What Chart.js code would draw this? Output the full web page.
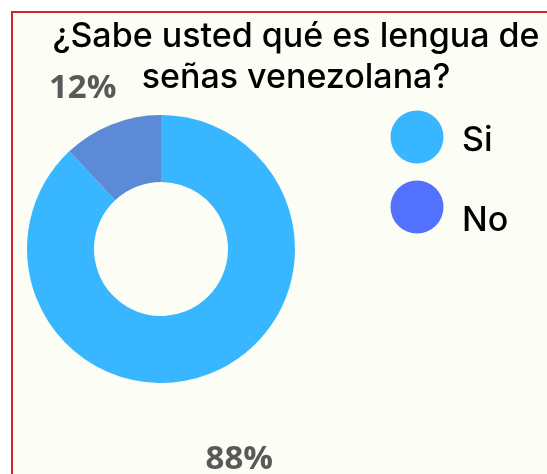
<!DOCTYPE html>
<html>
<head>
<meta charset="utf-8">
<script src="https://cdn.jsdelivr.net/npm/chart.js@4"></script>
<style>
  html, body { margin: 0; padding: 0; background: #ffffff; overflow: hidden; }
  #frame {
    position: absolute; left: 11px; top: 11px; width: 600px; height: 500px;
    border-left: 2px solid #d2232a; border-top: 2px solid #d2232a;
    background: #fcfdf4;
  }
  #wrap { position: absolute; left: 0; top: 0; width: 547px; height: 474px; }
</style>
</head>
<body>
<div id="frame"></div>
<div id="wrap"><canvas id="donutChart"></canvas></div>
<script>
const titleLines = ["¿Sabe usted qué es lengua de", "señas venezolana?"]
const categories = ["Si", "No"]
const percentages = [88, 12]
const sliceColors = ["#38b6ff", "#5c8ad6"]
const legendColors = ["#38b6ff", "#5271ff"]

// draws title, legend and the % labels on top of the doughnut
const decorPlugin = {
  id: "decor",
  afterDraw(chart, args, opts) {
    const ctx = chart.ctx
    ctx.save()

    ctx.fillStyle = "#000000"
    ctx.textAlign = "center"
    ctx.textBaseline = "alphabetic"
    ctx.font = "500 34px Inter, sans-serif"
    titleLines.forEach((line, i) => {
      ctx.fillText(line, opts.titleX, opts.titleY[i])
    })

    chart.data.labels.forEach((label, i) => {
      const cy = opts.legendY + i * opts.legendGap
      ctx.beginPath()
      ctx.arc(opts.legendX, cy, opts.legendR, 0, Math.PI * 2)
      ctx.fillStyle = legendColors[i]
      ctx.fill()
      ctx.fillStyle = "#000000"
      ctx.textAlign = "left"
      ctx.font = "500 34px Inter, sans-serif"
      ctx.fillText(label, opts.legendTextX, cy + opts.legendTextDy[i])
    })

    const meta = chart.getDatasetMeta(0)
    ctx.fillStyle = "#595959"
    ctx.textAlign = "center"
    ctx.textBaseline = "middle"
    ctx.font = "bold 33px 'Open Sans', sans-serif"
    meta.data.forEach((arc, i) => {
      const p = arc.getProps(["x", "y", "startAngle", "endAngle", "outerRadius"], true)
      const mid = (p.startAngle + p.endAngle) / 2
      const ax = p.x + Math.cos(mid) * p.outerRadius + opts.labelShift[i][0]
      const ay = p.y + Math.sin(mid) * p.outerRadius + opts.labelShift[i][1]
      ctx.fillText(percentages[i] + "%", ax, ay)
    })

    ctx.restore()
  },
}

function initChart() {
  const ctx = document.getElementById("donutChart").getContext("2d")
  new Chart(ctx, {
    type: "doughnut",
    data: {
      labels: categories,
      datasets: [
        {
          data: percentages,
          backgroundColor: sliceColors,
          borderWidth: 0,
          hoverOffset: 0,
          offset: 0,
        },
      ],
    },
    options: {
      responsive: true,
      maintainAspectRatio: false,
      animation: false,
      cutout: "50%",
      layout: {
        padding: { left: 27, right: 252, top: 115, bottom: 91 },
      },
      plugins: {
        legend: { display: false },
        title: { display: false },
        tooltip: { enabled: false },
        decor: {
          titleX: 296,
          titleY: [47, 88],
          legendX: 417,
          legendY: 137,
          legendGap: 70,
          legendR: 26.5,
          legendTextX: 462,
          legendTextDy: [14, 24],
          labelShift: [
            [29, 86],
            [-29, -36],
          ],
        },
      },
    },
    plugins: [decorPlugin],
  })
}

document.addEventListener("DOMContentLoaded", initChart)
</script>
</body>
</html>
